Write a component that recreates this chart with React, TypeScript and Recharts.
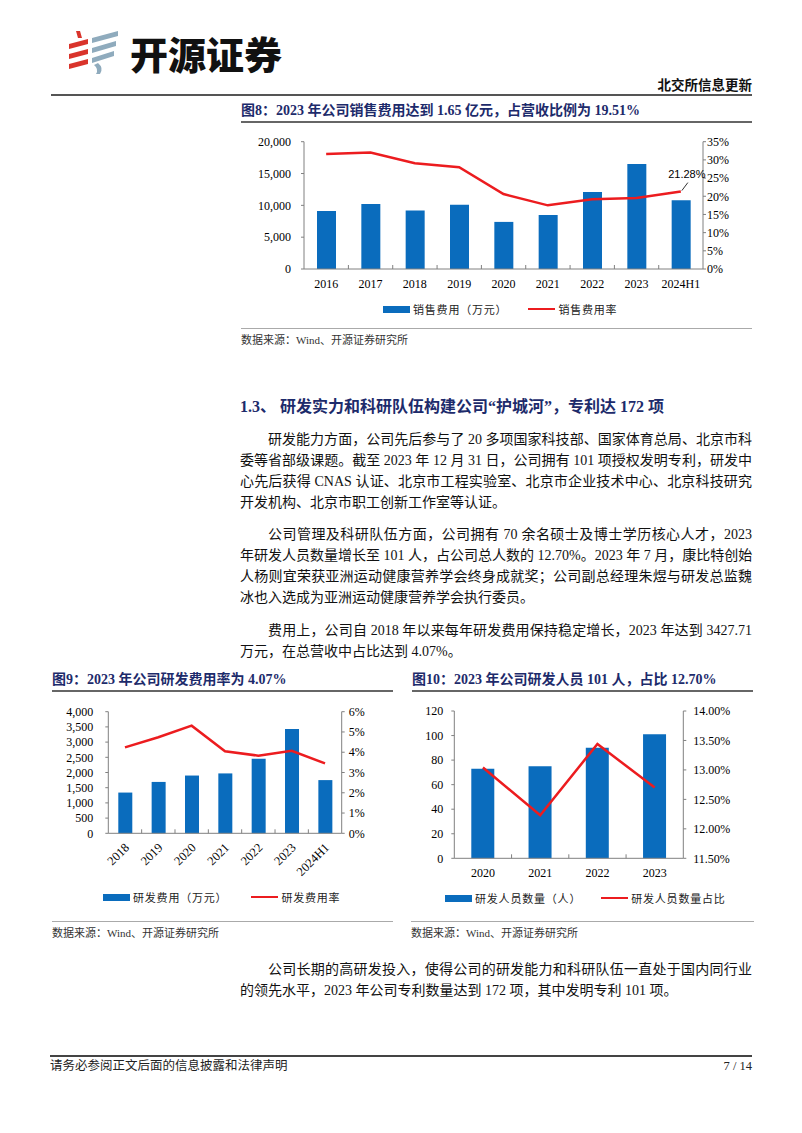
import React from 'react';
import { ComposedChart, Bar, Line, XAxis, YAxis, LabelList } from 'recharts';

// 图8 销售费用
const salesYears = ['2016', '2017', '2018', '2019', '2020', '2021', '2022', '2023', '2024H1'];
const salesCost = [9100, 10200, 9200, 10100, 7400, 8500, 12100, 16500, 10800];
const salesRate = [31.6, 32.0, 29.1, 28.0, 20.6, 17.5, 19.2, 19.51, 21.28];
const salesLeftTicks = [0, 5000, 10000, 15000, 20000];
const salesRightTicks = [0, 5, 10, 15, 20, 25, 30, 35];

// 图9 研发费用
const rdYears = ['2018', '2019', '2020', '2021', '2022', '2023', '2024H1'];
const rdCost = [1340, 1690, 1900, 1970, 2450, 3427.71, 1750];
const rdRate = [4.24, 4.74, 5.31, 4.05, 3.83, 4.07, 3.45];
const rdLeftTicks = [0, 500, 1000, 1500, 2000, 2500, 3000, 3500, 4000];
const rdRightTicks = [0, 1, 2, 3, 4, 5, 6];

// 图10 研发人员
const staffYears = ['2020', '2021', '2022', '2023'];
const staffCount = [73, 75, 90, 101];
const staffShare = [13.04, 12.23, 13.44, 12.7];
const staffLeftTicks = [0, 20, 40, 60, 80, 100, 120];
const staffRightTicks = [11.5, 12, 12.5, 13, 13.5, 14];

const salesData = salesYears.map((y, i) => ({ year: y, cost: salesCost[i], rate: salesRate[i] }));
const rdData = rdYears.map((y, i) => ({ year: y, cost: rdCost[i], rate: rdRate[i] }));
const staffData = staffYears.map((y, i) => ({ year: y, cost: staffCount[i], rate: staffShare[i] }));

const BLUE = '#0a6cbd';
const RED = '#ec1c1f';
const AXIS = '#808080';
const NAVY = '#1d2b6b';
const SERIF = '"Liberation Serif", "Noto Sans CJK SC", serif';
const CJK = '"Noto Sans CJK SC", sans-serif';

const tickStyle = { fontSize: 12, fontFamily: SERIF, fill: '#000' };
const fmtThousands = (v: number) => v.toLocaleString('en-US');

function FlatTick({ x, y, payload, index, half, dy }: any) {
  return (
    <g>
      {index > 0 && <line x1={x - half} x2={x - half} y1={y} y2={y - 4} stroke={AXIS} />}
      <text x={x} y={y + dy} textAnchor="middle" {...tickStyle}>
        {payload.value}
      </text>
    </g>
  );
}

function RotTick({ x, y, payload, index, half }: any) {
  return (
    <g>
      {index > 0 && <line x1={x - half} x2={x - half} y1={y} y2={y - 4} stroke={AXIS} />}
      <text x={x + 5} y={y + 15} textAnchor="end" transform={`rotate(-45 ${x + 5} ${y + 15})`} {...tickStyle} fontSize={12.5}>
        {payload.value}
      </text>
    </g>
  );
}

function LastLabel(props: any) {
  const { x, y, index, value } = props;
  if (index !== salesRate.length - 1) return null;
  return (
    <g>
      <line x1={x + 1} y1={y - 1} x2={x + 7} y2={y - 9} stroke="#333" strokeWidth={1} />
      <text x={x + 6} y={y - 13.5} textAnchor="middle" fontSize={11} fontFamily='"Liberation Sans", sans-serif' fill="#000">
        {value.toFixed(2)}%
      </text>
    </g>
  );
}

function Legend2({ x, y, barName, lineName, gap }: any) {
  return (
    <div style={{ position: 'absolute', left: x, top: y - 8, height: 16, display: 'flex', alignItems: 'center', fontFamily: CJK, fontSize: 11, letterSpacing: 0.8, color: '#222' }}>
      <span style={{ display: 'inline-block', width: 27, height: 7, background: BLUE, marginRight: 3 }} />
      <span>{barName}</span>
      <span style={{ display: 'inline-block', width: 27, height: 2.5, background: RED, marginLeft: gap, marginRight: 3 }} />
      <span>{lineName}</span>
    </div>
  );
}

function Txt({ x, y, size, children, weight, color, font, right, spacing }: any) {
  return (
    <div
      style={{
        position: 'absolute',
        left: right ? undefined : x,
        right: right ? 802 - x : undefined,
        top: y - size * 0.75,
        lineHeight: `${size * 1.5}px`,
        fontSize: size,
        fontWeight: weight || 400,
        color: color || '#111',
        fontFamily: font || SERIF,
        whiteSpace: 'nowrap',
        letterSpacing: spacing || 0,
      }}
    >
      {children}
    </div>
  );
}

function BodyLine({ y, text, indent, justify }: any) {
  const left = indent ? 268 : 240;
  return (
    <div
      style={{
        position: 'absolute',
        left,
        width: 752 - left,
        top: y - 10.5,
        lineHeight: '21px',
        fontSize: 14,
        fontFamily: SERIF,
        color: '#111',
        whiteSpace: 'nowrap',
        textAlign: 'justify',
        textAlignLast: justify ? 'justify' : 'left',
      } as any}
    >
      {text}
    </div>
  );
}

function HLine({ x1, x2, y, w, c }: any) {
  return <div style={{ position: 'absolute', left: x1, width: x2 - x1, top: y - w / 2, height: w, background: c }} />;
}

const para1 = [
  '研发能力方面，公司先后参与了 20 多项国家科技部、国家体育总局、北京市科',
  '委等省部级课题。截至 2023 年 12 月 31 日，公司拥有 101 项授权发明专利，研发中',
  '心先后获得 CNAS 认证、北京市工程实验室、北京市企业技术中心、北京科技研究',
  '开发机构、北京市职工创新工作室等认证。',
];
const para2 = [
  '公司管理及科研队伍方面，公司拥有 70 余名硕士及博士学历核心人才，2023',
  '年研发人员数量增长至 101 人，占公司总人数的 12.70%。2023 年 7 月，康比特创始',
  '人杨则宜荣获亚洲运动健康营养学会终身成就奖；公司副总经理朱煜与研发总监魏',
  '冰也入选成为亚洲运动健康营养学会执行委员。',
];
const para3 = ['费用上，公司自 2018 年以来每年研发费用保持稳定增长，2023 年达到 3427.71', '万元，在总营收中占比达到 4.07%。'];
const para4 = ['公司长期的高研发投入，使得公司的研发能力和科研队伍一直处于国内同行业', '的领先水平，2023 年公司专利数量达到 172 项，其中发明专利 101 项。'];

function Paragraph({ lines, y0 }: any) {
  return (
    <>
      {lines.map((t: string, i: number) => (
        <BodyLine key={i} y={y0 + i * 21} text={t} indent={i === 0} justify={i < lines.length - 1} />
      ))}
    </>
  );
}

function Logo() {
  return (
    <svg style={{ position: 'absolute', left: 64, top: 28 }} width={60} height={48} viewBox="0 0 60 48">
      <polygon points="12,3 16,3 18,10 14,10" fill="#d9342b" />
      <polygon points="5,16 24,11 24,16 5,21" fill="#d9342b" />
      <polygon points="5,26 24,21 24,26 5,31" fill="#d9342b" />
      <polygon points="5,36 24,31 24,36 5,41" fill="#d9342b" />
      <polygon points="28,10 54,3 54,8 28,15" fill="#8fabbd" />
      <polygon points="28,20 52,13 52,18 28,25" fill="#8fabbd" />
      <polygon points="28,30 50,23 50,28 28,35" fill="#8fabbd" />
      <path d="M34,35 Q40,40 36,46 L32,46 Q35,41 30,37 Z" fill="#8fabbd" />
    </svg>
  );
}

export default function App() {
  return (
    <div style={{ position: 'absolute', left: 0, top: 0, width: 802, height: 1133, background: '#fff', overflow: 'hidden' }}>
      {/* 页眉 */}
      <Logo />
      <Txt x={130} y={52} size={38} weight={900} font={CJK} color="#111" spacing={0}>开源证券</Txt>
      <Txt x={752} y={84} size={13.5} weight={700} font={CJK} right>北交所信息更新</Txt>
      <HLine x1={51} x2={752} y={95} w={2} c="#555" />

      {/* 图8 */}
      <Txt x={241} y={110} size={14} weight={700} color={NAVY}>图8：2023 年公司销售费用达到 1.65 亿元，占营收比例为 19.51%</Txt>
      <HLine x1={241} x2={752} y={122} w={2} c="#666" />
      <div style={{ position: 'absolute', left: 230, top: 125 }}>
        <ComposedChart width={520} height={175} data={salesData} margin={{ top: 16.7, right: 0, bottom: 0, left: 0 }}>
          <XAxis
            dataKey="year"
            height={31}
            interval={0}
            axisLine={{ stroke: AXIS }}
            tickLine={false}
            tickSize={0}
            tickMargin={0}
            tick={(p: any) => <FlatTick {...p} half={22.1} dy={19} />}
          />
          <YAxis yAxisId="l" width={74} domain={[0, 20000]} ticks={salesLeftTicks} interval={0} tickFormatter={fmtThousands} axisLine={{ stroke: AXIS }} tickLine={{ stroke: AXIS }} tickSize={3} tickMargin={10} tick={tickStyle} />
          <YAxis yAxisId="r" orientation="right" width={47} domain={[0, 35]} ticks={salesRightTicks} interval={0} tickFormatter={(v: number) => `${v}%`} axisLine={{ stroke: AXIS }} tickLine={{ stroke: AXIS }} tickSize={3} tickMargin={1} tick={tickStyle} />
          <Bar yAxisId="l" dataKey="cost" fill={BLUE} barSize={19} isAnimationActive={false} />
          <Line yAxisId="r" dataKey="rate" type="linear" stroke={RED} strokeWidth={2.5} dot={false} isAnimationActive={false}>
            <LabelList dataKey="rate" content={<LastLabel />} />
          </Line>
        </ComposedChart>
      </div>
      <Legend2 x={383} y={309} barName="销售费用（万元）" lineName="销售费用率" gap={21} />
      <HLine x1={241} x2={752} y={328} w={1} c="#aaa" />
      <Txt x={241} y={340} size={11} font={SERIF} color="#333">数据来源：Wind、开源证券研究所</Txt>

      {/* 正文 */}
      <Txt x={240} y={407} size={16} weight={700} color={NAVY}>1.3、 研发实力和科研队伍构建公司“护城河”，专利达 172 项</Txt>
      <Paragraph lines={para1} y0={439} />
      <Paragraph lines={para2} y0={534} />
      <Paragraph lines={para3} y0={630} />

      {/* 图9 */}
      <Txt x={52} y={679} size={14} weight={700} color={NAVY}>图9：2023 年公司研发费用率为 4.07%</Txt>
      <HLine x1={52} x2={393} y={691} w={2} c="#666" />
      <div style={{ position: 'absolute', left: 40, top: 700 }}>
        <ComposedChart width={360} height={180} data={rdData} margin={{ top: 11.7, right: 0, bottom: 0, left: 0 }}>
          <XAxis
            dataKey="year"
            height={46.7}
            interval={0}
            axisLine={{ stroke: AXIS }}
            tickLine={false}
            tickSize={0}
            tickMargin={0}
            tick={(p: any) => <RotTick {...p} half={16.67} />}
          />
          <YAxis yAxisId="l" width={68.3} domain={[0, 4000]} ticks={rdLeftTicks} interval={0} tickFormatter={fmtThousands} axisLine={{ stroke: AXIS }} tickLine={{ stroke: AXIS }} tickSize={3} tickMargin={12} tick={tickStyle} />
          <YAxis yAxisId="r" orientation="right" width={58.3} domain={[0, 6]} ticks={rdRightTicks} interval={0} tickFormatter={(v: number) => `${v}%`} axisLine={{ stroke: AXIS }} tickLine={{ stroke: AXIS }} tickSize={3} tickMargin={4} tick={tickStyle} />
          <Bar yAxisId="l" dataKey="cost" fill={BLUE} barSize={14} isAnimationActive={false} />
          <Line yAxisId="r" dataKey="rate" type="linear" stroke={RED} strokeWidth={2.5} dot={false} isAnimationActive={false} />
        </ComposedChart>
      </div>
      <Legend2 x={103} y={897} barName="研发费用（万元）" lineName="研发费用率" gap={24} />
      <HLine x1={52} x2={393} y={921} w={1} c="#aaa" />
      <Txt x={52} y={933} size={11} font={SERIF} color="#333">数据来源：Wind、开源证券研究所</Txt>

      {/* 图10 */}
      <Txt x={412} y={679} size={14} weight={700} color={NAVY}>图10：2023 年公司研发人员 101 人，占比 12.70%</Txt>
      <HLine x1={412} x2={753} y={691} w={2} c="#666" />
      <div style={{ position: 'absolute', left: 400, top: 700 }}>
        <ComposedChart width={370} height={185} data={staffData} margin={{ top: 11, right: 0, bottom: 0, left: 0 }}>
          <XAxis
            dataKey="year"
            height={26.7}
            interval={0}
            axisLine={{ stroke: AXIS }}
            tickLine={false}
            tickSize={0}
            tickMargin={0}
            tick={(p: any) => <FlatTick {...p} half={28.6} dy={18.5} />}
          />
          <YAxis yAxisId="l" width={54.3} domain={[0, 120]} ticks={staffLeftTicks} interval={0} axisLine={{ stroke: AXIS }} tickLine={{ stroke: AXIS }} tickSize={3} tickMargin={8} tick={tickStyle} />
          <YAxis yAxisId="r" orientation="right" width={86.7} domain={[11.5, 14]} ticks={staffRightTicks} interval={0} tickFormatter={(v: number) => `${v.toFixed(2)}%`} axisLine={{ stroke: AXIS }} tickLine={{ stroke: AXIS }} tickSize={3} tickMargin={7} tick={tickStyle} />
          <Bar yAxisId="l" dataKey="cost" fill={BLUE} barSize={23} isAnimationActive={false} />
          <Line yAxisId="r" dataKey="rate" type="linear" stroke={RED} strokeWidth={2.5} dot={false} isAnimationActive={false} />
        </ComposedChart>
      </div>
      <Legend2 x={445} y={898} barName="研发人员数量（人）" lineName="研发人员数量占比" gap={20} />
      <HLine x1={411} x2={754} y={921} w={1} c="#aaa" />
      <Txt x={411} y={933} size={11} font={SERIF} color="#333">数据来源：Wind、开源证券研究所</Txt>

      <Paragraph lines={para4} y0={969} />

      {/* 页脚 */}
      <HLine x1={50} x2={752} y={1056} w={2} c="#444" />
      <Txt x={50} y={1066} size={12.5} font={SERIF} color="#222">请务必参阅正文后面的信息披露和法律声明</Txt>
      <Txt x={752} y={1066} size={12.5} font={SERIF} color="#222" right>7 / 14</Txt>
    </div>
  );
}
